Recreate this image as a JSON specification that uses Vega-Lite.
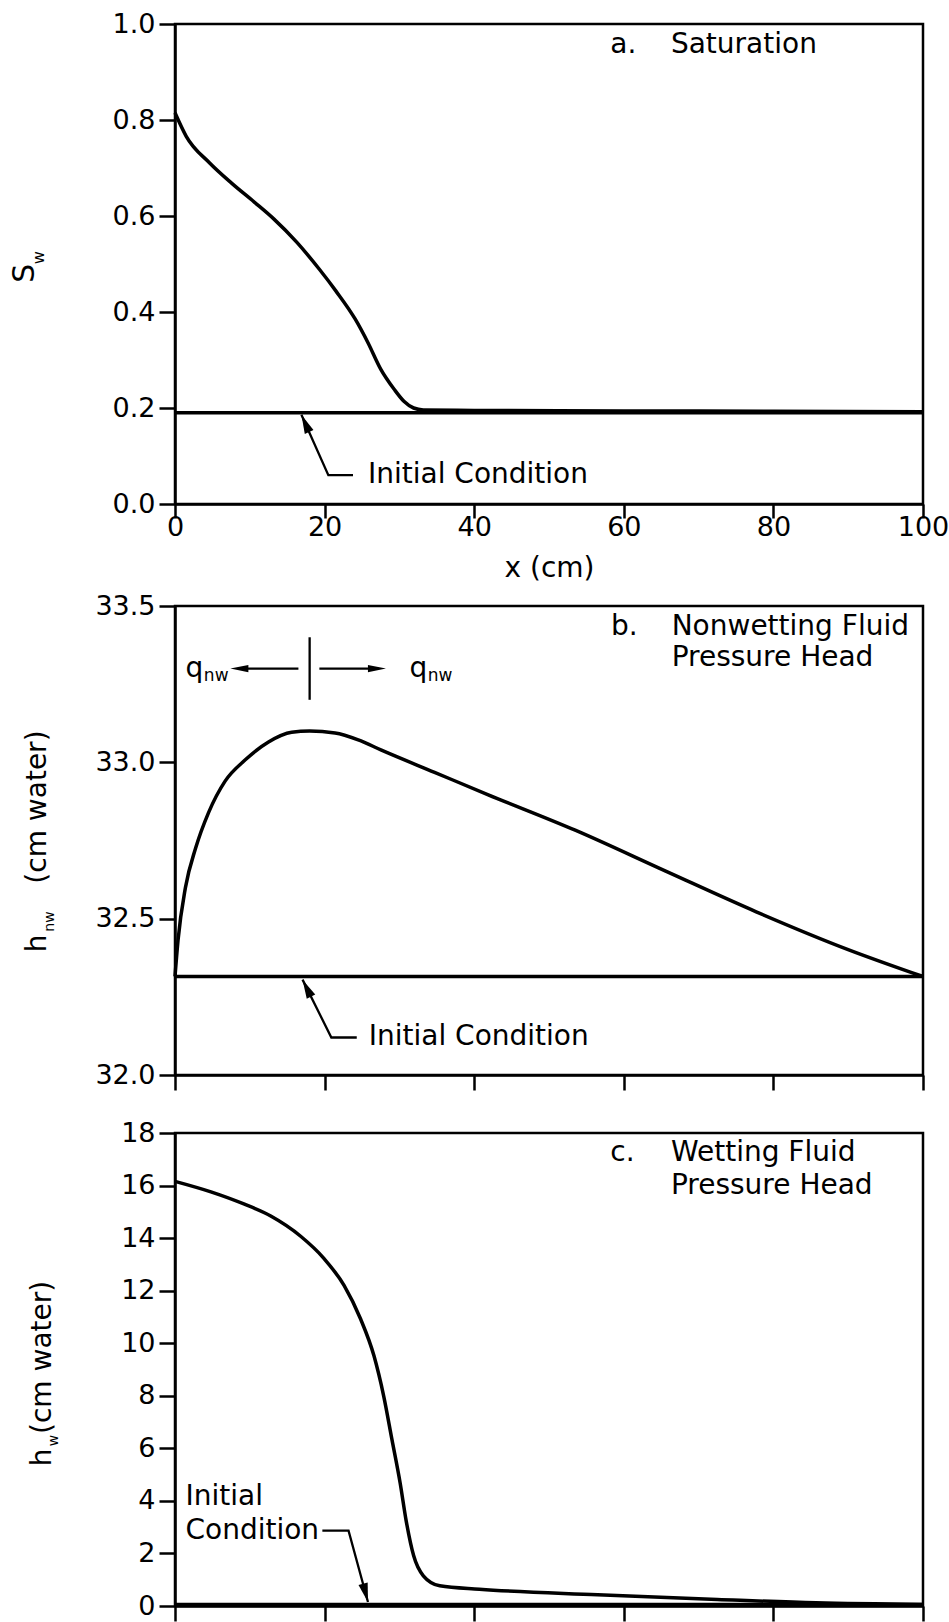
{
  "$schema": "https://vega.github.io/schema/vega-lite/v6.json",
  "padding": 0,
  "spacing": 0,
  "background": "white",
  "config": {
    "font": "DejaVu Sans",
    "view": {"stroke": "black", "strokeWidth": 2.5},
    "axis": {
      "domainColor": "black", "domainWidth": 2.5,
      "tickColor": "black", "tickWidth": 2.5,
      "labelColor": "black", "labelFont": "DejaVu Sans", "labelFontSize": 27,
      "titleColor": "black", "titleFont": "DejaVu Sans", "titleFontSize": 28, "titleFontWeight": "normal",
      "grid": false, "labelFlush": false, "labelOverlap": false
    },
    "text": {"font": "DejaVu Sans", "fontSize": 28, "color": "black"}
  },
  "datasets": {
    "sat": [
      {"x": 0, "y": 0.815}, {"x": 1.5, "y": 0.766}, {"x": 4.6, "y": 0.711}, {"x": 7.6, "y": 0.668},
      {"x": 10.6, "y": 0.629}, {"x": 13.2, "y": 0.594}, {"x": 16.3, "y": 0.545}, {"x": 19.3, "y": 0.489},
      {"x": 21.5, "y": 0.444}, {"x": 24.1, "y": 0.385}, {"x": 25.8, "y": 0.336}, {"x": 27.5, "y": 0.281},
      {"x": 29.3, "y": 0.239}, {"x": 30.6, "y": 0.214}, {"x": 31.9, "y": 0.2}, {"x": 33.2, "y": 0.196},
      {"x": 40, "y": 0.195}, {"x": 60, "y": 0.194}, {"x": 80, "y": 0.193}, {"x": 100, "y": 0.192}
    ],
    "satInit": [{"x": 0, "y": 0.19}, {"x": 100, "y": 0.19}],
    "aSeg": [
      {"s": 1, "o": 1, "x": 23.8, "y": 0.06}, {"s": 1, "o": 2, "x": 20.5, "y": 0.06}, {"s": 1, "o": 3, "x": 16.9, "y": 0.186}
    ],
    "aHead": [{"x": 16.9, "y": 0.186}],
    "aTxt": [
      {"x": 25.8, "y": 0.06, "t": "Initial Condition"},
      {"x": 58.2, "y": 0.957, "t": "a."},
      {"x": 66.3, "y": 0.957, "t": "Saturation"}
    ],
    "aRot": [{"x": -18.8, "y": 0.481, "t": "S"}],
    "aRotSub": [{"x": -17.5, "y": 0.513, "t": "w"}],
    "aInv": [
      {"x": -23.2, "y": 0.4, "y2": 0.6},
      {"x": 0, "y": 1, "y2": 1.0465},
      {"x": 0, "y": 0, "y2": -0.1729}
    ],
    "hnw": [
      {"x": 0, "y": 32.315}, {"x": 0.4, "y": 32.43}, {"x": 1.4, "y": 32.6}, {"x": 2.75, "y": 32.725},
      {"x": 4.5, "y": 32.84}, {"x": 6.7, "y": 32.94}, {"x": 9.4, "y": 33.008}, {"x": 12.5, "y": 33.065},
      {"x": 15.6, "y": 33.096}, {"x": 18, "y": 33.1}, {"x": 21.4, "y": 33.094}, {"x": 24.5, "y": 33.072},
      {"x": 27.6, "y": 33.039}, {"x": 34.7, "y": 32.968}, {"x": 41.8, "y": 32.897}, {"x": 53.5, "y": 32.783},
      {"x": 65.6, "y": 32.652}, {"x": 77.7, "y": 32.522}, {"x": 89.9, "y": 32.402}, {"x": 100, "y": 32.315}
    ],
    "hnwInit": [{"x": 0, "y": 32.315}, {"x": 100, "y": 32.315}],
    "bSeg": [
      {"s": 1, "o": 1, "x": 24.3, "y": 32.12}, {"s": 1, "o": 2, "x": 20.9, "y": 32.12}, {"s": 1, "o": 3, "x": 17.05, "y": 32.305},
      {"s": 2, "o": 1, "x": 18, "y": 33.2}, {"s": 2, "o": 2, "x": 18, "y": 33.4},
      {"s": 3, "o": 1, "x": 16.5, "y": 33.3}, {"s": 3, "o": 2, "x": 8.5, "y": 33.3},
      {"s": 4, "o": 1, "x": 19.3, "y": 33.3}, {"s": 4, "o": 2, "x": 27.2, "y": 33.3}
    ],
    "bHeadIC": [{"x": 17.05, "y": 32.305}],
    "bHeadL": [{"x": 7.4, "y": 33.3}],
    "bHeadR": [{"x": 28.2, "y": 33.3}],
    "bTxt": [
      {"x": 25.9, "y": 32.12, "t": "Initial Condition"},
      {"x": 58.3, "y": 33.434, "t": "b."},
      {"x": 66.4, "y": 33.434, "t": "Nonwetting Fluid"},
      {"x": 66.4, "y": 33.333, "t": "Pressure Head"},
      {"x": 1.4, "y": 33.3, "t": "q"},
      {"x": 31.35, "y": 33.3, "t": "q"}
    ],
    "bTxtSub": [{"x": 3.86, "y": 33.276, "t": "nw"}, {"x": 33.8, "y": 33.276, "t": "nw"}],
    "bRot": [{"x": -17.25, "y": 32.421, "t": "h"}, {"x": -17.25, "y": 32.857, "t": "(cm water)"}],
    "bRotSub": [{"x": -16.2, "y": 32.491, "t": "nw"}],
    "bInv": [{"x": 0, "y": 33.5, "y2": 33.548}, {"x": 0, "y": 32, "y2": 31.936}],
    "hw": [
      {"x": 0, "y": 16.16}, {"x": 4.8, "y": 15.76}, {"x": 9.2, "y": 15.3}, {"x": 12.8, "y": 14.84},
      {"x": 16.8, "y": 14.07}, {"x": 19.9, "y": 13.23}, {"x": 22.6, "y": 12.2}, {"x": 24.8, "y": 10.93},
      {"x": 26.6, "y": 9.52}, {"x": 27.9, "y": 7.99}, {"x": 29.0, "y": 6.34}, {"x": 30.1, "y": 4.68},
      {"x": 30.9, "y": 3.25}, {"x": 31.9, "y": 1.92}, {"x": 33.2, "y": 1.15}, {"x": 35.4, "y": 0.77},
      {"x": 40.7, "y": 0.64}, {"x": 56.5, "y": 0.43}, {"x": 72.5, "y": 0.25}, {"x": 85.7, "y": 0.12},
      {"x": 100, "y": 0.06}
    ],
    "hwInit": [{"x": 0, "y": 0.06}, {"x": 100, "y": 0.06}],
    "cSeg": [
      {"s": 1, "o": 1, "x": 19.7, "y": 2.87}, {"s": 1, "o": 2, "x": 23.2, "y": 2.87}, {"s": 1, "o": 3, "x": 25.8, "y": 0.15}
    ],
    "cHead": [{"x": 25.8, "y": 0.15}],
    "cTxt": [
      {"x": 1.4, "y": 4.15, "t": "Initial"},
      {"x": 1.4, "y": 2.87, "t": "Condition"},
      {"x": 58.2, "y": 17.22, "t": "c."},
      {"x": 66.3, "y": 17.22, "t": "Wetting Fluid"},
      {"x": 66.3, "y": 16.0, "t": "Pressure Head"}
    ],
    "cRot": [{"x": -16.6, "y": 5.66, "t": "h"}, {"x": -16.6, "y": 9.46, "t": "(cm water)"}],
    "cRotSub": [{"x": -15.6, "y": 6.3, "t": "w"}],
    "cInv": [{"x": 0, "y": 18, "y2": 19.304}]
  },
  "vconcat": [
    {
      "width": 748,
      "height": 480,
      "encoding": {
        "x": {"field": "x", "type": "quantitative", "scale": {"domain": [0, 100], "nice": false, "zero": false},
              "axis": {"values": [0, 20, 40, 60, 80, 100], "format": "d", "tickSize": 14, "labelPadding": -4, "title": "x (cm)", "titlePadding": 14}},
        "y": {"field": "y", "type": "quantitative", "scale": {"domain": [0, 1], "nice": false, "zero": false},
              "axis": {"values": [0, 0.2, 0.4, 0.6, 0.8, 1], "format": ".1f", "tickSize": 16, "labelPadding": 4, "title": null}}
      },
      "layer": [
        {"data": {"name": "satInit"}, "mark": {"type": "line", "color": "black", "strokeWidth": 3.5}},
        {"data": {"name": "sat"}, "mark": {"type": "line", "color": "black", "strokeWidth": 3.5, "interpolate": "monotone"}},
        {"data": {"name": "aSeg"}, "mark": {"type": "line", "color": "black", "strokeWidth": 2.3},
         "encoding": {"detail": {"field": "s"}, "order": {"field": "o"}}},
        {"data": {"name": "aHead"}, "mark": {"type": "point", "shape": "M0,0L-0.5,2L0.5,2Z", "size": 360, "filled": true, "color": "black", "opacity": 1, "angle": 336}},
        {"data": {"name": "aTxt"}, "mark": {"type": "text", "align": "left", "baseline": "middle"}, "encoding": {"text": {"field": "t"}}},
        {"data": {"name": "aRot"}, "mark": {"type": "text", "align": "center", "baseline": "alphabetic", "angle": 270, "fontSize": 30}, "encoding": {"text": {"field": "t"}}},
        {"data": {"name": "aRotSub"}, "mark": {"type": "text", "align": "center", "baseline": "alphabetic", "angle": 270, "fontSize": 16}, "encoding": {"text": {"field": "t"}}},
        {"data": {"name": "aInv"}, "mark": {"type": "rule", "strokeWidth": 1, "opacity": 0}, "encoding": {"y2": {"field": "y2"}}}
      ]
    },
    {
      "width": 748,
      "height": 469,
      "encoding": {
        "x": {"field": "x", "type": "quantitative", "scale": {"domain": [0, 100], "nice": false, "zero": false},
              "axis": {"values": [0, 20, 40, 60, 80, 100], "labels": false, "tickSize": 15, "title": null}},
        "y": {"field": "y", "type": "quantitative", "scale": {"domain": [32, 33.5], "nice": false, "zero": false},
              "axis": {"values": [32, 32.5, 33, 33.5], "format": ".1f", "tickSize": 16, "labelPadding": 4, "title": null}}
      },
      "layer": [
        {"data": {"name": "hnwInit"}, "mark": {"type": "line", "color": "black", "strokeWidth": 3.5}},
        {"data": {"name": "hnw"}, "mark": {"type": "line", "color": "black", "strokeWidth": 3.5, "interpolate": "monotone"}},
        {"data": {"name": "bSeg"}, "mark": {"type": "line", "color": "black", "strokeWidth": 2.3},
         "encoding": {"detail": {"field": "s"}, "order": {"field": "o"}}},
        {"data": {"name": "bHeadIC"}, "mark": {"type": "point", "shape": "M0,0L-0.5,2L0.5,2Z", "size": 360, "filled": true, "color": "black", "opacity": 1, "angle": 333.5}},
        {"data": {"name": "bHeadL"}, "mark": {"type": "point", "shape": "M0,0L-0.4,2L0.4,2Z", "size": 324, "filled": true, "color": "black", "opacity": 1, "angle": 270}},
        {"data": {"name": "bHeadR"}, "mark": {"type": "point", "shape": "M0,0L-0.4,2L0.4,2Z", "size": 324, "filled": true, "color": "black", "opacity": 1, "angle": 90}},
        {"data": {"name": "bTxt"}, "mark": {"type": "text", "align": "left", "baseline": "middle"}, "encoding": {"text": {"field": "t"}}},
        {"data": {"name": "bTxtSub"}, "mark": {"type": "text", "align": "left", "baseline": "middle", "fontSize": 17}, "encoding": {"text": {"field": "t"}}},
        {"data": {"name": "bRot"}, "mark": {"type": "text", "align": "center", "baseline": "alphabetic", "angle": 270, "fontSize": 28}, "encoding": {"text": {"field": "t"}}},
        {"data": {"name": "bRotSub"}, "mark": {"type": "text", "align": "center", "baseline": "alphabetic", "angle": 270, "fontSize": 14}, "encoding": {"text": {"field": "t"}}},
        {"data": {"name": "bInv"}, "mark": {"type": "rule", "strokeWidth": 1, "opacity": 0}, "encoding": {"y2": {"field": "y2"}}}
      ]
    },
    {
      "width": 748,
      "height": 473,
      "encoding": {
        "x": {"field": "x", "type": "quantitative", "scale": {"domain": [0, 100], "nice": false, "zero": false},
              "axis": {"values": [0, 20, 40, 60, 80, 100], "labels": false, "tickSize": 15, "title": null}},
        "y": {"field": "y", "type": "quantitative", "scale": {"domain": [0, 18], "nice": false, "zero": false},
              "axis": {"values": [0, 2, 4, 6, 8, 10, 12, 14, 16, 18], "format": "d", "tickSize": 16, "labelPadding": 4, "title": null}}
      },
      "layer": [
        {"data": {"name": "hwInit"}, "mark": {"type": "line", "color": "black", "strokeWidth": 3.5}},
        {"data": {"name": "hw"}, "mark": {"type": "line", "color": "black", "strokeWidth": 3.5, "interpolate": "monotone"}},
        {"data": {"name": "cSeg"}, "mark": {"type": "line", "color": "black", "strokeWidth": 2.3},
         "encoding": {"detail": {"field": "s"}, "order": {"field": "o"}}},
        {"data": {"name": "cHead"}, "mark": {"type": "point", "shape": "M0,0L-0.5,2L0.5,2Z", "size": 360, "filled": true, "color": "black", "opacity": 1, "angle": 165}},
        {"data": {"name": "cTxt"}, "mark": {"type": "text", "align": "left", "baseline": "middle"}, "encoding": {"text": {"field": "t"}}},
        {"data": {"name": "cRot"}, "mark": {"type": "text", "align": "center", "baseline": "alphabetic", "angle": 270, "fontSize": 28}, "encoding": {"text": {"field": "t"}}},
        {"data": {"name": "cRotSub"}, "mark": {"type": "text", "align": "center", "baseline": "alphabetic", "angle": 270, "fontSize": 14}, "encoding": {"text": {"field": "t"}}},
        {"data": {"name": "cInv"}, "mark": {"type": "rule", "strokeWidth": 1, "opacity": 0}, "encoding": {"y2": {"field": "y2"}}}
      ]
    }
  ]
}
